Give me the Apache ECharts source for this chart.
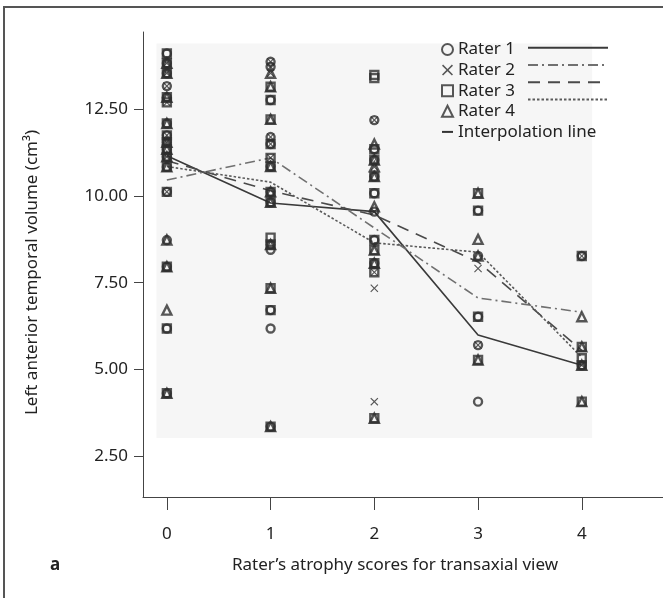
<!DOCTYPE html>
<html>
<head>
<meta charset="utf-8">
<script src="https://cdn.jsdelivr.net/npm/echarts@6/dist/echarts.min.js"></script>
<style>
html, body { margin: 0; padding: 0; background: #fff; }
#chart { width: 663px; height: 598px; }
</style>
</head>
<body>
<div id="chart"></div>
<script>
const scores = [0, 1, 2, 3, 4]
const yTicks = [2.5, 5, 7.5, 10, 12.5]

// interpolation lines (mean volume per score), one per rater
const rater1Line = [11.16, 9.80, 9.55, 5.99, 5.12]
const rater2Line = [10.46, 11.10, 9.08, 7.06, 6.65]
const rater3Line = [11.02, 10.15, 9.45, 8.10, 5.55]
const rater4Line = [10.85, 10.40, 8.65, 8.38, 5.35]

// volumes per score (index = score 0..4)
const rater1Vols = [
    [14.11, 13.83, 13.54, 13.17, 12.85, 12.09, 11.75, 11.55, 11.35, 11.13, 10.84, 10.12, 8.73, 7.96, 6.18, 4.31],
    [13.87, 13.73, 12.77, 11.70, 11.50, 10.85, 10.12, 9.82, 8.60, 8.45, 6.71, 6.18, 3.35],
    [12.19, 11.35, 11.04, 10.56, 10.08, 9.55, 8.73, 8.06],
    [9.58, 8.27, 6.52, 5.70, 4.07],
    [8.27, 5.12]
]
const rater2Vols = [
    [13.83, 13.54, 13.17, 12.70, 11.75, 11.55, 11.13, 10.12],
    [13.87, 13.73, 13.54, 11.70, 11.50, 11.10],
    [12.19, 10.84, 9.55, 7.80, 7.34, 4.07],
    [7.91, 5.70],
    [8.27, 5.12]
]
const rater3Vols = [
    [14.11, 13.83, 13.54, 12.85, 12.70, 12.09, 11.75, 11.55, 11.35, 11.13, 10.84, 10.12, 7.96, 6.18, 4.31],
    [13.15, 12.77, 12.21, 11.50, 11.10, 10.85, 10.12, 9.82, 8.80, 8.60, 7.34, 6.71, 3.35],
    [13.49, 13.40, 11.35, 11.04, 10.56, 10.08, 8.73, 8.44, 8.06, 7.80, 3.59],
    [10.08, 9.58, 6.52, 5.27],
    [8.27, 5.65, 5.32, 5.12, 4.07]
]
const rater4Vols = [
    [13.83, 13.54, 12.85, 12.09, 11.55, 11.35, 11.13, 10.84, 8.73, 7.96, 6.71, 4.31],
    [13.54, 13.15, 12.21, 10.85, 10.12, 9.82, 8.60, 7.34, 3.35],
    [11.50, 11.04, 10.84, 10.56, 9.69, 8.44, 8.06, 3.59],
    [10.08, 8.75, 8.27, 5.27],
    [6.52, 5.65, 5.12, 4.07]
]

const font = '"Noto Sans", sans-serif'
const ink = '#2e2e2e'
const crossPath = 'path://M1,0 L5,4 L9,0 L10,1 L6,5 L10,9 L9,10 L5,6 L1,10 L0,9 L4,5 L0,1 Z'

const toPoints = (vols) => {
    let pts = []
    vols.forEach((list, i) => {
        list.forEach(v => pts.push([scores[i], v]))
    })
    return pts
}
const toLine = (vals) => vals.map((v, i) => [scores[i], v])

const openStyle = { color: 'rgba(0,0,0,0)', borderColor: ink, borderWidth: 2.4 }

const chart = echarts.init(document.getElementById('chart'))
chart.setOption({
    animation: false,
    backgroundColor: '#fff',
    textStyle: { fontFamily: font },
    grid: { left: 143, right: 0, top: 32, bottom: 101 },
    xAxis: {
        type: 'value',
        min: -0.23,
        max: 4.783,
        splitLine: { show: false },
        axisLine: { onZero: false, lineStyle: { color: '#444', width: 1 } },
        axisTick: { customValues: scores, length: 13, lineStyle: { color: '#444' } },
        axisLabel: { customValues: scores, margin: 29, fontSize: 17, color: '#222', fontFamily: font },
        name: 'Rater\u2019s atrophy scores for transaxial view',
        nameLocation: 'middle',
        nameGap: 60,
        nameTextStyle: { fontSize: 17, color: '#222', fontFamily: font, padding: [0, 16, 0, 0] }
    },
    yAxis: {
        type: 'value',
        min: 1.32,
        max: 14.73,
        splitLine: { show: false },
        axisLine: { show: true, onZero: false, lineStyle: { color: '#444', width: 1 } },
        axisTick: { show: true, customValues: yTicks, length: 9, lineStyle: { color: '#444' } },
        axisLabel: {
            customValues: yTicks, margin: 15, fontSize: 17, color: '#222', fontFamily: font,
            formatter: v => v.toFixed(2)
        },
        name: 'Left anterior temporal volume (cm\u00b3)',
        nameLocation: 'middle',
        nameGap: 102,
        nameTextStyle: { fontSize: 17, color: '#222', fontFamily: font, padding: [0, 16, 0, 0] }
    },
    legend: [
        {
            orient: 'vertical',
            left: 441,
            top: 41,
            padding: 0,
            itemWidth: 11,
            itemHeight: 11,
            itemGap: 3.6,
            selectedMode: false,
            textStyle: { fontSize: 17, lineHeight: 17, color: '#222', fontFamily: font },
            data: ['Rater 1', 'Rater 2', 'Rater 3', 'Rater 4',
                { name: 'Interpolation line', itemStyle: { opacity: 0 } }]
        },
        {
            orient: 'vertical',
            left: 527,
            top: 41,
            padding: 0,
            itemWidth: 80,
            itemHeight: 17,
            itemGap: 3.6,
            selectedMode: false,
            formatter: () => '',
            itemStyle: { opacity: 0 },
            textStyle: { fontSize: 17, lineHeight: 17 },
            data: ['r1', 'r2', 'r3', 'r4']
        }
    ],
    series: [
        {
            name: 'Interpolation line',
            type: 'line',
            symbol: 'none',
            z: 0,
            data: [],
            lineStyle: { color: '#333', width: 2 },
            itemStyle: { color: '#333' },
            markArea: {
                silent: true,
                itemStyle: { color: '#f6f6f6' },
                data: [[{ coord: [-0.1, 14.4] }, { coord: [4.1, 3.02] }]]
            }
        },
        {
            name: 'r1', type: 'line', symbol: 'none', z: 2, silent: true,
            data: toLine(rater1Line),
            itemStyle: { color: '#3a3a3a' },
            lineStyle: { color: '#3a3a3a', width: 1.6, type: 'solid' }
        },
        {
            name: 'r2', type: 'line', symbol: 'none', z: 2, silent: true,
            data: toLine(rater2Line),
            itemStyle: { color: '#707070' },
            lineStyle: { color: '#707070', width: 1.6, type: [10, 4, 2, 4] }
        },
        {
            name: 'r3', type: 'line', symbol: 'none', z: 2, silent: true,
            data: toLine(rater3Line),
            itemStyle: { color: '#4a4a4a' },
            lineStyle: { color: '#4a4a4a', width: 1.6, type: [12, 8] }
        },
        {
            name: 'r4', type: 'line', symbol: 'none', z: 2, silent: true,
            data: toLine(rater4Line),
            itemStyle: { color: '#5a5a5a' },
            lineStyle: { color: '#5a5a5a', width: 1.6, type: [2.5, 2] }
        },
        {
            name: 'Rater 1', type: 'scatter', symbol: 'circle', symbolSize: 8, z: 3, silent: true,
            data: toPoints(rater1Vols),
            itemStyle: openStyle
        },
        {
            name: 'Rater 2', type: 'scatter', symbol: crossPath, symbolSize: 8, z: 3, silent: true,
            data: toPoints(rater2Vols),
            itemStyle: { color: ink }
        },
        {
            name: 'Rater 3', type: 'scatter', symbol: 'rect', symbolSize: 8, z: 3, silent: true,
            data: toPoints(rater3Vols),
            itemStyle: openStyle
        },
        {
            name: 'Rater 4', type: 'scatter', symbol: 'triangle', symbolSize: 9, z: 3, silent: true,
            data: toPoints(rater4Vols),
            itemStyle: openStyle
        }
    ],
    graphic: [
        {
            type: 'polyline',
            shape: { points: [[4, 598], [4, 7], [663, 7]] },
            style: { stroke: '#555', lineWidth: 2, fill: null }
        },
        {
            type: 'text',
            left: 50,
            top: 557,
            style: { text: 'a', font: 'bold 17px "Noto Sans", sans-serif', fill: '#222' }
        }
    ]
})
window.onresize = () => {
    chart.resize()
}
</script>
</body>
</html>
